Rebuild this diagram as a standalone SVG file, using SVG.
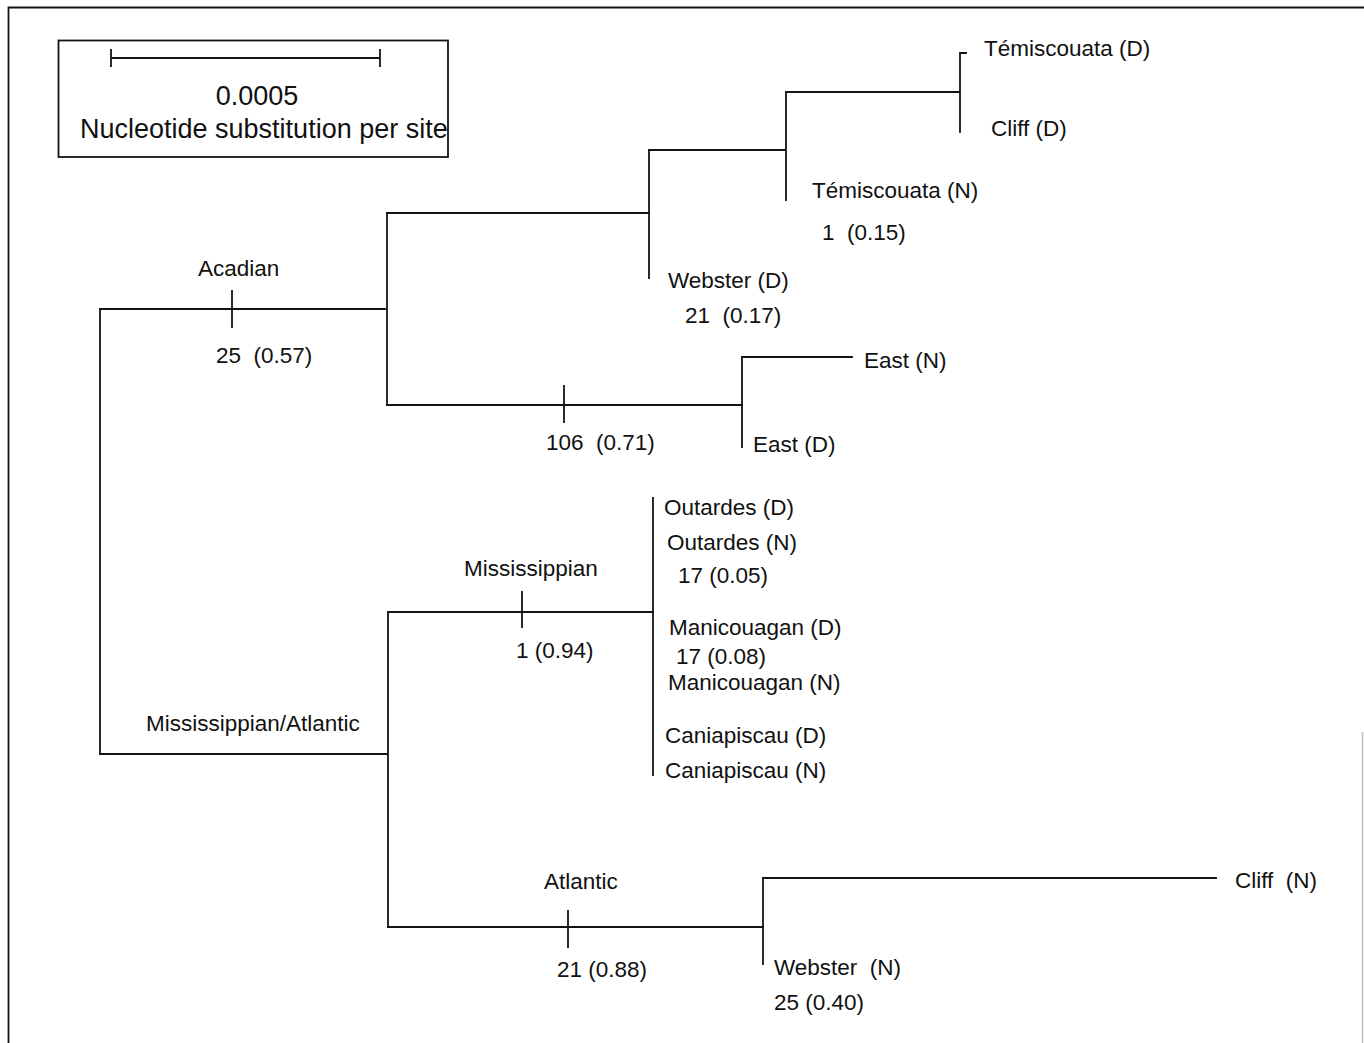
<svg xmlns="http://www.w3.org/2000/svg" width="1364" height="1043" viewBox="0 0 1364 1043">
<style>
  .ln { stroke: #141414; stroke-width: 1.8; fill: none; stroke-linecap: square; }
  .lb { font-family: "Liberation Sans", Arial, sans-serif; font-size: 22.5px; fill: #111; white-space: pre; }
  .sc { font-family: "Liberation Sans", Arial, sans-serif; font-size: 27px; fill: #111; white-space: pre; }
</style>
<rect width="1364" height="1043" fill="#ffffff"/>
<g id="frame">
  <path class="ln" d="M8.5 1043 V7.5 H1364"/>
  <line x1="1362.5" y1="732" x2="1362.5" y2="1043" stroke="#bdbdbd" stroke-width="1.5"/>
</g>
<g id="scale">
  <rect x="58.5" y="40.5" width="389.5" height="116.5" class="ln"/>
  <path class="ln" d="M111 58 H380 M111 50 V66 M380 50 V66"/>
  <text class="sc" x="257" y="105" text-anchor="middle">0.0005</text>
  <text class="sc" x="80" y="138">Nucleotide substitution per site</text>
</g>
<g id="connectors">
  <path class="ln" d="M100 309 V754"/>
  <path class="ln" d="M100 309 H385"/>
  <path class="ln" d="M232 291 V327"/>
  <path class="ln" d="M387 213 V405"/>
  <path class="ln" d="M387 213 H649"/>
  <path class="ln" d="M649 150 V278"/>
  <path class="ln" d="M649 150 H785"/>
  <path class="ln" d="M786 92 V200"/>
  <path class="ln" d="M786 92 H959"/>
  <path class="ln" d="M960 132 V53 H966"/>
  <path class="ln" d="M387 405 H742"/>
  <path class="ln" d="M564 386 V422"/>
  <path class="ln" d="M742 357 V447"/>
  <path class="ln" d="M742 357 H852"/>
  <path class="ln" d="M100 754 H387"/>
  <path class="ln" d="M388 612 V927"/>
  <path class="ln" d="M388 612 H653"/>
  <path class="ln" d="M522 592 V627"/>
  <path class="ln" d="M653 498 V775"/>
  <path class="ln" d="M388 927 H763"/>
  <path class="ln" d="M568 911 V947"/>
  <path class="ln" d="M763 878 V964"/>
  <path class="ln" d="M763 878 H1216"/>
</g>
<g id="node-temiscouata-d"><text class="lb" x="984" y="56">Témiscouata (D)</text></g>
<g id="node-cliff-d"><text class="lb" x="991" y="136">Cliff (D)</text></g>
<g id="node-temiscouata-n"><text class="lb" x="812" y="198">Témiscouata (N)</text><text class="lb" x="822" y="240">1  (0.15)</text></g>
<g id="node-webster-d"><text class="lb" x="668" y="288">Webster (D)</text><text class="lb" x="685" y="323">21  (0.17)</text></g>
<g id="node-acadian"><text class="lb" x="198" y="276">Acadian</text><text class="lb" x="216" y="363">25  (0.57)</text></g>
<g id="node-east-n"><text class="lb" x="864" y="368">East (N)</text></g>
<g id="node-east-d"><text class="lb" x="753" y="452">East (D)</text></g>
<g id="node-east-branch"><text class="lb" x="546" y="450">106  (0.71)</text></g>
<g id="node-outardes"><text class="lb" x="664" y="515">Outardes (D)</text><text class="lb" x="667" y="550">Outardes (N)</text><text class="lb" x="678" y="583">17 (0.05)</text></g>
<g id="node-mississippian"><text class="lb" x="464" y="576">Mississippian</text><text class="lb" x="516" y="658">1 (0.94)</text></g>
<g id="node-manicouagan"><text class="lb" x="669" y="635">Manicouagan (D)</text><text class="lb" x="676" y="664">17 (0.08)</text><text class="lb" x="668" y="690">Manicouagan (N)</text></g>
<g id="node-caniapiscau"><text class="lb" x="665" y="743">Caniapiscau (D)</text><text class="lb" x="665" y="778">Caniapiscau (N)</text></g>
<g id="node-miss-atlantic"><text class="lb" x="146" y="731">Mississippian/Atlantic</text></g>
<g id="node-atlantic"><text class="lb" x="544" y="889">Atlantic</text><text class="lb" x="557" y="977">21 (0.88)</text></g>
<g id="node-cliff-n"><text class="lb" x="1235" y="888">Cliff  (N)</text></g>
<g id="node-webster-n"><text class="lb" x="774" y="975">Webster  (N)</text><text class="lb" x="774" y="1010">25 (0.40)</text></g>
</svg>
